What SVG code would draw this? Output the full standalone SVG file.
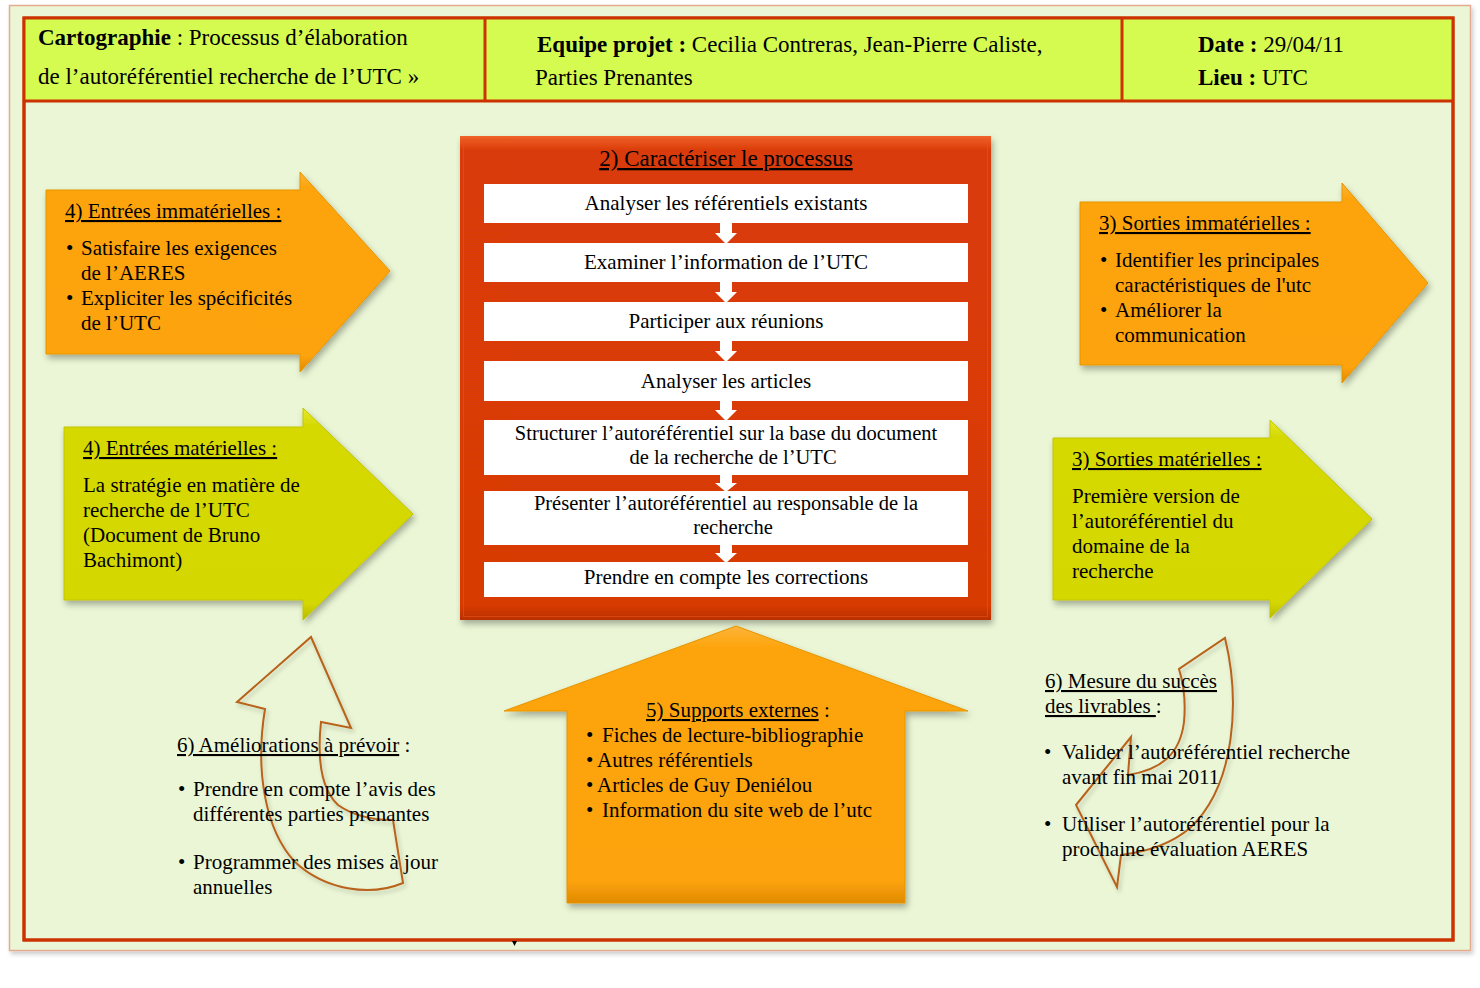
<svg xmlns="http://www.w3.org/2000/svg" width="1480" height="988" viewBox="0 0 1480 988">
<defs>
<filter id="sh" x="-10%" y="-10%" width="125%" height="125%">
<feDropShadow dx="2" dy="4" stdDeviation="3" flood-color="#000" flood-opacity="0.3"/>
</filter>
<filter id="shs" x="-10%" y="-10%" width="125%" height="125%">
<feDropShadow dx="2" dy="3" stdDeviation="2" flood-color="#000" flood-opacity="0.2"/>
</filter>
<linearGradient id="gOr" x1="0" y1="0" x2="0" y2="1">
<stop offset="0" stop-color="#FDB43A"/>
<stop offset="0.08" stop-color="#FDA40A"/>
<stop offset="0.92" stop-color="#FDA308"/>
<stop offset="1" stop-color="#E08A05"/>
</linearGradient>
<linearGradient id="gYe" x1="0" y1="0" x2="0" y2="1">
<stop offset="0" stop-color="#E6EA2A"/>
<stop offset="0.08" stop-color="#D6D904"/>
<stop offset="0.92" stop-color="#D5D802"/>
<stop offset="1" stop-color="#B8BA00"/>
</linearGradient>
<linearGradient id="gRd" x1="0" y1="0" x2="0" y2="1">
<stop offset="0" stop-color="#F0642A"/>
<stop offset="0.03" stop-color="#DA3B07"/>
<stop offset="0.97" stop-color="#D83A06"/>
<stop offset="1" stop-color="#B83000"/>
</linearGradient>
</defs>
<style>
text{font-family:"Liberation Serif","Times New Roman",serif;font-size:21px;fill:#000}
.h{font-size:23px}
.t{font-size:23px}
.s{font-size:20.5px}
.b{font-weight:bold}
.u{text-decoration:underline}
.c{text-anchor:middle}
.box{fill:#fff}
.wa{fill:#fff}
.curve{fill:none;stroke:#B8621B;stroke-width:2;stroke-linejoin:miter}
</style>

<g id="frame">
<rect x="9.5" y="5.5" width="1461" height="945" fill="#EBF6D6" stroke="#E3AC90" stroke-width="1.5" filter="url(#shs)"/>
<rect x="24" y="18" width="1429" height="922" fill="#EAF6D5" stroke="#CC3300" stroke-width="3"/>
</g>

<g id="header">
<rect x="24" y="18" width="1429" height="83" fill="#D5FA50"/>
<line x1="24" y1="101" x2="1453" y2="101" stroke="#CC3300" stroke-width="3"/>
<line x1="485" y1="18" x2="485" y2="101" stroke="#CC3300" stroke-width="3"/>
<line x1="1122" y1="18" x2="1122" y2="101" stroke="#CC3300" stroke-width="3"/>
<rect x="24" y="18" width="1429" height="922" fill="none" stroke="#CC3300" stroke-width="3"/>
<text class="h" x="38" y="45"><tspan class="b">Cartographie</tspan> : Processus d’élaboration</text>
<text class="h" x="38" y="84">de l’autoréférentiel recherche de l’UTC »</text>
<text class="h" x="537" y="52"><tspan class="b">Equipe projet :</tspan> Cecilia Contreras,  Jean-Pierre Caliste,</text>
<text class="h" x="535" y="85">Parties Prenantes</text>
<text class="h" x="1198" y="52"><tspan class="b">Date :</tspan> 29/04/11</text>
<text class="h" x="1198" y="85"><tspan class="b">Lieu :</tspan> UTC</text>
</g>

<g id="process">
<rect x="460" y="136" width="531" height="484" fill="url(#gRd)" filter="url(#sh)"/>
<rect x="463.5" y="139.5" width="524" height="477" fill="none" stroke="#E85220" stroke-width="1" opacity="0.6"/>
<text class="c u t" x="726" y="166">2) Caractériser le processus</text>
<rect class="box" x="484" y="184" width="484" height="39"/>
<rect class="box" x="484" y="243" width="484" height="39"/>
<rect class="box" x="484" y="302" width="484" height="39"/>
<rect class="box" x="484" y="361" width="484" height="40"/>
<rect class="box" x="484" y="420" width="484" height="55"/>
<rect class="box" x="484" y="491" width="484" height="54"/>
<rect class="box" x="484" y="562" width="484" height="35"/>
<text class="c" x="726" y="210">Analyser les référentiels  existants</text>
<text class="c" x="726" y="269">Examiner l’information de l’UTC</text>
<text class="c" x="726" y="328">Participer aux réunions</text>
<text class="c" x="726" y="388">Analyser les articles</text>
<text class="c s" x="726" y="440">Structurer l’autoréférentiel sur la base du document</text>
<text class="c s" x="733" y="463.5">de la recherche de l’UTC</text>
<text class="c s" x="726" y="510">Présenter l’autoréférentiel au responsable de la</text>
<text class="c s" x="733" y="533.5">recherche</text>
<text class="c" x="726" y="584">Prendre en compte les corrections</text>
</g>

<g id="connectors">
<polygon class="wa" points="720,223 732,223 732,233 737,233 726,244 715,233 720,233"/>
<polygon class="wa" points="720,282 732,282 732,292 737,292 726,303 715,292 720,292"/>
<polygon class="wa" points="720,341 732,341 732,351 737,351 726,362 715,351 720,351"/>
<polygon class="wa" points="720,401 732,401 732,410 737,410 726,421 715,410 720,410"/>
<polygon class="wa" points="720,475 732,475 732,483 737,483 726,492 715,483 720,483"/>
<polygon class="wa" points="720,545 732,545 732,553 737,553 726,563 715,553 720,553"/>
</g>

<g id="entrees-immaterielles">
<polygon points="46,190 300,190 300,172 390,271 300,372 300,354 46,354" fill="url(#gOr)" stroke="#E59400" stroke-width="1" filter="url(#sh)"/>
<text class="u" x="65" y="218">4) Entrées immatérielles :</text>
<text x="66" y="255">•</text><text x="81" y="255">Satisfaire les exigences</text>
<text x="81" y="280">de l’AERES</text>
<text x="66" y="305">•</text><text x="81" y="305">Expliciter les spécificités</text>
<text x="81" y="330">de l’UTC</text>
</g>

<g id="entrees-materielles">
<polygon points="64,427 303,427 303,408 413,514 303,620 303,600 64,600" fill="url(#gYe)" stroke="#C2C400" stroke-width="1" filter="url(#sh)"/>
<text class="u" x="83" y="455">4) Entrées matérielles :</text>
<text x="83" y="492">La stratégie en matière de</text>
<text x="83" y="517">recherche de l’UTC</text>
<text x="83" y="542">(Document de Bruno</text>
<text x="83" y="567">Bachimont)</text>
</g>

<g id="sorties-immaterielles">
<polygon points="1080,202 1342,202 1342,183 1428,283 1342,383 1342,365 1080,365" fill="url(#gOr)" stroke="#E59400" stroke-width="1" filter="url(#sh)"/>
<text class="u" x="1099" y="230">3) Sorties immatérielles :</text>
<text x="1100" y="267">•</text><text x="1115" y="267">Identifier les principales</text>
<text x="1115" y="292">caractéristiques de l'utc</text>
<text x="1100" y="317">•</text><text x="1115" y="317">Améliorer la</text>
<text x="1115" y="342">communication</text>
</g>

<g id="sorties-materielles">
<polygon points="1053,438 1270,438 1270,420 1372,519 1270,618 1270,600 1053,600" fill="url(#gYe)" stroke="#C2C400" stroke-width="1" filter="url(#sh)"/>
<text class="u" x="1072" y="466">3) Sorties matérielles :</text>
<text x="1072" y="503">Première version de</text>
<text x="1072" y="528">l’autoréférentiel du</text>
<text x="1072" y="553">domaine de la</text>
<text x="1072" y="578">recherche</text>
</g>

<g id="supports-externes">
<polygon points="736,626 968,711 905,711 905,903 567,903 567,711 504,711" fill="url(#gOr)" stroke="#E59400" stroke-width="1" filter="url(#sh)"/>
<text x="646" y="717"><tspan class="u">5) Supports externes</tspan> :</text>
<text x="586" y="742">•</text><text x="602" y="742">Fiches de lecture-bibliographie</text>
<text x="586" y="767">•</text><text x="597" y="767">Autres référentiels</text>
<text x="586" y="792">•</text><text x="597" y="792">Articles  de Guy Deniélou</text>
<text x="586" y="817">•</text><text x="602" y="817">Information du site web  de l’utc</text>
</g>

<g id="ameliorations">
<path class="curve" filter="url(#shs)" d="M311,637 L351,728 L321,722 C317,760 322,790 338,805 C355,817 375,820 393,820 L403,883 C370,897 325,890 295,862 C265,830 255,770 265,709 L237,702 Z"/>
<text x="177" y="752"><tspan class="u">6) Améliorations à prévoir</tspan> :</text>
<text x="178" y="796">•</text><text x="193" y="796">Prendre en compte l’avis des</text>
<text x="193" y="821">différentes parties prenantes</text>
<text x="178" y="869">•</text><text x="193" y="869">Programmer des mises à jour</text>
<text x="193" y="894">annuelles</text>
</g>

<g id="mesure-succes">
<path class="curve" filter="url(#shs)" d="M1225,638 C1240,700 1236,785 1190,828 C1170,845 1145,852 1121,855 L1117,887 L1076,805 L1131,737 L1128,775 C1160,770 1180,755 1184,722 C1186,700 1184,685 1179,669 Z"/>
<text class="u" x="1045" y="688">6) Mesure du succès</text>
<text x="1045" y="713"><tspan class="u">des livrables </tspan>:</text>
<text x="1044" y="759">•</text><text x="1062" y="759">Valider l’autoréférentiel recherche</text>
<text x="1062" y="784">avant fin mai 2011</text>
<text x="1044" y="831">•</text><text x="1062" y="831">Utiliser l’autoréférentiel pour la</text>
<text x="1062" y="856">prochaine évaluation AERES</text>
</g>

<g id="stray-mark">
<path d="M512,941 L517,941 L514.5,946 Z" fill="#000"/>
</g>
</svg>
